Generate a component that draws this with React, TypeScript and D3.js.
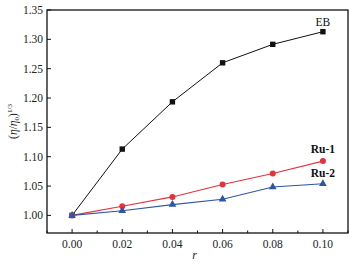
import React from "react";
import * as d3 from "d3";

const rValues = [0.0, 0.02, 0.04, 0.06, 0.08, 0.1];
const ebValues = [1.0, 1.113, 1.1935, 1.26, 1.2915, 1.313];
const ru1Values = [1.0, 1.0155, 1.0315, 1.0527, 1.0713, 1.0925];
const ru2Values = [1.0, 1.0078, 1.0184, 1.0275, 1.0485, 1.054];
const xTicks = [0.0, 0.02, 0.04, 0.06, 0.08, 0.1];
const xMinorTicks = [-0.01, 0.01, 0.03, 0.05, 0.07, 0.09, 0.11];
const yTicks = [1.0, 1.05, 1.1, 1.15, 1.2, 1.25, 1.3, 1.35];

const W = 364;
const H = 267;
const M = { left: 47, right: 16, top: 10, bottom: 34 };

export default function App() {
  const x = d3.scaleLinear().domain([-0.01, 0.11]).range([M.left, W - M.right]);
  const y = d3.scaleLinear().domain([0.97, 1.35]).range([H - M.bottom, M.top]);
  const line = d3
    .line<number>()
    .x((_, i) => x(rValues[i]))
    .y((d) => y(d));
  const font = "'Liberation Serif', 'Times New Roman', serif";
  const black = "#111";
  const red = "#e5323b";
  const blue = "#2f56a4";
  const tri = d3.symbol(d3.symbolTriangle, 26)();

  return (
    <svg
      width={W}
      height={H}
      style={{ position: "absolute", left: 0, top: 0, background: "#fff" }}
      fontFamily={font}
    >
      <rect x={0} y={0} width={W} height={H} fill="#fff" />
      {/* frame */}
      <rect
        x={M.left}
        y={M.top}
        width={W - M.left - M.right}
        height={H - M.top - M.bottom}
        fill="none"
        stroke={black}
        strokeWidth={1.3}
      />
      {/* y ticks */}
      {yTicks.map((t) => (
        <g key={"y" + t}>
          <line x1={M.left} x2={M.left + 4} y1={y(t)} y2={y(t)} stroke={black} strokeWidth={1} />
          <text x={M.left - 4} y={y(t)} dy="0.35em" textAnchor="end" fontSize={11.5} fill="#222">
            {t.toFixed(2)}
          </text>
        </g>
      ))}
      {/* x ticks */}
      {xTicks.map((t) => (
        <g key={"x" + t}>
          <line x1={x(t)} x2={x(t)} y1={H - M.bottom} y2={H - M.bottom - 4} stroke={black} strokeWidth={1} />
          <text x={x(t)} y={H - M.bottom + 15} textAnchor="middle" fontSize={11.5} fill="#222">
            {t.toFixed(2)}
          </text>
        </g>
      ))}
      {xMinorTicks.map((t) => (
        <line
          key={"xm" + t}
          x1={x(t)}
          x2={x(t)}
          y1={H - M.bottom}
          y2={H - M.bottom - 2.5}
          stroke={black}
          strokeWidth={1}
        />
      ))}
      {/* axis labels */}
      <text x={x(0.05) - 3} y={H - 8} textAnchor="middle" fontSize={12} fontStyle="italic" fill="#222">
        r
      </text>
      <text
        transform={`translate(17, ${y(1.16)}) rotate(-90)`}
        textAnchor="middle"
        fontSize={11.5}
        fill="#222"
      >
        (<tspan fontStyle="italic">η</tspan>/<tspan fontStyle="italic">η</tspan>
        <tspan fontSize={7} dy={2}>0</tspan>
        <tspan dy={-2}>)</tspan>
        <tspan fontSize={7} dy={-5}>1/3</tspan>
      </text>
      {/* lines */}
      <path d={line(ebValues) || ""} fill="none" stroke={black} strokeWidth={1} />
      <path d={line(ru1Values) || ""} fill="none" stroke={red} strokeWidth={1.1} />
      <path d={line(ru2Values) || ""} fill="none" stroke={blue} strokeWidth={1.1} />
      {/* markers */}
      {ebValues.map((v, i) => (
        <rect key={"eb" + i} x={x(rValues[i]) - 2.7} y={y(v) - 2.7} width={5.4} height={5.4} fill={black} />
      ))}
      {ru1Values.map((v, i) => (
        <circle key={"r1" + i} cx={x(rValues[i])} cy={y(v)} r={3} fill={red} />
      ))}
      {ru2Values.map((v, i) => (
        <path key={"r2" + i} d={tri || ""} transform={`translate(${x(rValues[i])},${y(v)})`} fill={blue} />
      ))}
      {/* series labels */}
      <text x={x(0.1)} y={26} textAnchor="middle" fontSize={11.5} fill="#111">
        EB
      </text>
      <text x={x(0.1)} y={153} textAnchor="middle" fontSize={11.5} fontWeight="bold" fill="#111">
        Ru-1
      </text>
      <text x={x(0.1)} y={177} textAnchor="middle" fontSize={11.5} fontWeight="bold" fill="#111">
        Ru-2
      </text>
    </svg>
  );
}
